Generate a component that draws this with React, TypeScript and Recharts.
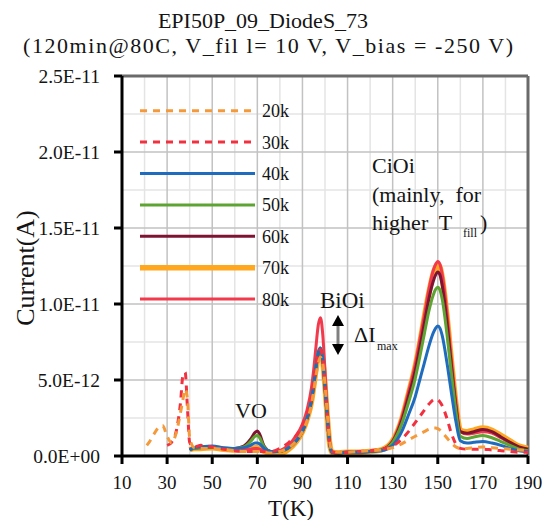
import { LineChart, Line, XAxis, YAxis, CartesianGrid, ReferenceLine } from "recharts";

// temperature (K) sample points
const TEMPS = [21, 22, 24, 26, 28, 30, 32, 34, 36, 37, 38, 39, 40, 42, 45, 50, 55, 60, 64, 67, 69, 70, 71, 73, 76, 80, 84, 87, 90, 92, 94, 95, 96, 97, 98, 99, 100, 101, 102, 103, 106, 110, 115, 120, 125, 130, 134, 137, 140, 142, 144, 146, 148, 149, 150, 151, 152, 154, 156, 158, 160, 163, 166, 170, 174, 178, 182, 186, 190];

// currents in units of 1E-12 A
const I20 = [0.7, 0.9, 1.4, 1.85, 2.0, 1.3, 0.85, 1.5, 2.9, 3.7, 4.4, 3.8, 1.2, 0.55, 0.5, 0.5, 0.45, 0.35, 0.3, 0.3, 0.3, 0.3, 0.3, 0.25, 0.2, 0.3, 0.55, 0.95, 1.6, 2.3, 3.4, 4.3, 5.3, 6.1, 6.5, 6.1, 4.7, 2.8, 1.1, 0.35, 0.25, 0.25, 0.3, 0.35, 0.4, 0.55, 0.8, 1.05, 1.3, 1.45, 1.6, 1.75, 1.85, 1.85, 1.8, 1.7, 1.55, 1.2, 0.85, 0.6, 0.5, 0.5, 0.55, 0.6, 0.55, 0.5, 0.45, 0.4, 0.35];
const I30 = [null, null, null, null, null, 0.7, 0.9, 1.6, 3.6, 5.3, 5.5, 3.2, 0.9, 0.6, 0.7, 0.6, 0.45, 0.35, 0.3, 0.3, 0.3, 0.3, 0.3, 0.3, 0.3, 0.5, 0.9, 1.3, 2.0, 2.8, 3.9, 4.9, 5.9, 6.7, 7.0, 6.4, 4.6, 2.6, 0.9, 0.3, 0.2, 0.25, 0.3, 0.35, 0.45, 0.65, 1.1, 1.6, 2.2, 2.6, 3.0, 3.4, 3.7, 3.75, 3.7, 3.55, 3.3, 2.5, 1.5, 0.8, 0.5, 0.45, 0.45, 0.45, 0.4, 0.35, 0.3, 0.25, 0.25];
const I40 = [null, null, null, null, null, null, null, null, null, null, null, null, 0.4, 0.55, 0.6, 0.65, 0.55, 0.5, 0.55, 0.7, 0.85, 0.85, 0.8, 0.5, 0.3, 0.3, 0.55, 0.95, 1.65, 2.5, 3.7, 4.7, 5.9, 6.8, 7.1, 6.4, 4.5, 2.5, 0.9, 0.25, 0.2, 0.25, 0.25, 0.3, 0.35, 0.7, 1.6, 2.7, 3.9, 5.0, 6.1, 7.2, 8.1, 8.4, 8.55, 8.4, 7.9, 6.2, 4.2, 2.3, 1.0, 0.85, 0.9, 0.95, 0.85, 0.7, 0.5, 0.35, 0.3];
const I50 = [null, null, null, null, null, null, null, null, null, null, null, null, 0.4, 0.5, 0.55, 0.6, 0.5, 0.5, 0.6, 0.95, 1.3, 1.35, 1.2, 0.6, 0.3, 0.3, 0.55, 0.95, 1.65, 2.5, 3.7, 4.7, 5.9, 6.8, 7.1, 6.4, 4.5, 2.5, 0.9, 0.25, 0.2, 0.25, 0.25, 0.3, 0.4, 0.9, 2.1, 3.5, 5.1, 6.5, 8.0, 9.5, 10.6, 10.95, 11.1, 10.9, 10.3, 8.1, 5.5, 3.0, 1.3, 1.15, 1.25, 1.35, 1.2, 0.95, 0.7, 0.45, 0.35];
const I60 = [null, null, null, null, null, null, null, null, null, null, null, null, 0.4, 0.5, 0.55, 0.6, 0.5, 0.5, 0.65, 1.1, 1.55, 1.65, 1.45, 0.65, 0.3, 0.3, 0.55, 0.95, 1.6, 2.4, 3.6, 4.6, 5.8, 6.7, 7.0, 6.3, 4.5, 2.5, 0.9, 0.25, 0.2, 0.25, 0.25, 0.3, 0.4, 0.95, 2.3, 3.9, 5.6, 7.1, 8.7, 10.3, 11.5, 11.9, 12.1, 11.9, 11.2, 8.9, 6.0, 3.3, 1.6, 1.5, 1.6, 1.75, 1.6, 1.25, 0.9, 0.6, 0.45];
const I70 = [null, null, null, null, null, null, null, null, null, null, null, null, 0.4, 0.5, 0.5, 0.55, 0.45, 0.4, 0.45, 0.5, 0.55, 0.55, 0.5, 0.3, 0.15, 0.15, 0.45, 0.9, 1.6, 2.4, 3.6, 4.6, 5.7, 6.6, 6.9, 6.3, 4.6, 2.6, 0.9, 0.25, 0.2, 0.25, 0.25, 0.3, 0.4, 1.0, 2.4, 4.1, 5.9, 7.4, 9.1, 10.7, 12.0, 12.4, 12.6, 12.4, 11.7, 9.3, 6.3, 3.5, 1.7, 1.6, 1.7, 1.85, 1.7, 1.35, 1.0, 0.65, 0.5];
const I80 = [null, null, null, null, null, null, null, null, null, null, null, null, 0.45, 0.55, 0.6, 0.6, 0.5, 0.45, 0.45, 0.45, 0.5, 0.5, 0.45, 0.35, 0.25, 0.35, 0.75, 1.3, 2.1, 3.0, 4.5, 5.7, 7.2, 8.6, 9.1, 8.0, 5.6, 3.0, 1.0, 0.25, 0.2, 0.25, 0.25, 0.3, 0.4, 1.0, 2.5, 4.2, 6.0, 7.6, 9.2, 10.9, 12.2, 12.6, 12.8, 12.6, 11.9, 9.5, 6.4, 3.6, 1.6, 1.45, 1.5, 1.6, 1.5, 1.2, 0.85, 0.55, 0.45];

const X_TICKS = [10, 30, 50, 70, 90, 110, 130, 150, 170, 190];
const X_MINOR = [20, 40, 60, 80, 100, 120, 140, 160, 180];
const Y_TICKS = [0, 5, 10, 15, 20, 25];
const Y_MINOR = [2.5, 7.5, 12.5, 17.5, 22.5];
const Y_LABELS = ["0.0E+00", "5.0E-12", "1.0E-11", "1.5E-11", "2.0E-11", "2.5E-11"];

const SERIES = [
  { key: "k20", name: "20k", values: I20, color: "#f59a3a", width: 3, dash: "7 6" },
  { key: "k30", name: "30k", values: I30, color: "#f2303f", width: 3, dash: "7 6" },
  { key: "k40", name: "40k", values: I40, color: "#1f6cbf", width: 3 },
  { key: "k50", name: "50k", values: I50, color: "#5ea432", width: 3 },
  { key: "k60", name: "60k", values: I60, color: "#7e1332", width: 3 },
  { key: "k70", name: "70k", values: I70, color: "#ffa71f", width: 5.5 },
  { key: "k80", name: "80k", values: I80, color: "#f23a4c", width: 3 },
];
const DRAW_ORDER = ["k70", "k80", "k60", "k50", "k40", "k30", "k20"];

const data = TEMPS.map((t, i) => {
  const row: any = { T: t };
  SERIES.forEach(s => { row[s.key] = s.values[i]; });
  return row;
});

const FONT = "Liberation Serif, DejaVu Serif, serif";
const INK = "#141414";

const XTick = ({ x, y, payload }: any) => (
  <text x={x} y={y + 13} fontSize={19} fill={INK} textAnchor="middle" style={{ fontFamily: FONT }}>
    {payload.value}
  </text>
);
const YTick = ({ x, y, payload }: any) => (
  <text x={x} y={y + 6.5} fontSize={19.5} fill={INK} textAnchor="end" style={{ fontFamily: FONT }}>
    {Y_LABELS[Y_TICKS.indexOf(payload.value)]}
  </text>
);

export default function App() {
  return (
    <div style={{ position: "absolute", left: 0, top: 0, width: 543, height: 520, background: "#fff", fontFamily: FONT }}>
      <LineChart width={543} height={520} data={data} margin={{ top: 76, right: 15, bottom: 0, left: 0 }}>
        <CartesianGrid stroke="#e4e4e4" strokeWidth={1.5} verticalValues={X_MINOR} horizontalValues={Y_MINOR} />
        <CartesianGrid stroke="#c2c2c2" strokeWidth={1.5} />
        <XAxis dataKey="T" type="number" domain={[10, 190]} ticks={X_TICKS} height={64}
          tick={XTick} tickSize={8} tickMargin={12}
          axisLine={{ stroke: "#000", strokeWidth: 3 }} tickLine={{ stroke: "#000", strokeWidth: 3 }} />
        <YAxis type="number" domain={[0, 25]} ticks={Y_TICKS} width={122}
          tick={YTick} tickSize={8} tickMargin={14}
          axisLine={{ stroke: "#000", strokeWidth: 3 }} tickLine={{ stroke: "#000", strokeWidth: 3 }} />
        <ReferenceLine y={25} stroke="#6a6a6a" strokeWidth={3} />
        <ReferenceLine x={190} stroke="#6a6a6a" strokeWidth={3} />
        {DRAW_ORDER.map(k => {
          const s = SERIES.find(x => x.key === k)!;
          return <Line key={k} dataKey={k} type="monotone" stroke={s.color} strokeWidth={s.width}
            strokeDasharray={s.dash} dot={false} connectNulls={false} isAnimationActive={false} />;
        })}
      </LineChart>

      <svg width={543} height={520} style={{ position: "absolute", left: 0, top: 0, pointerEvents: "none", fontFamily: FONT }}
        fill={INK}>
        <text x={263} y={28} fontSize={22} textAnchor="middle">EPI50P_09_DiodeS_73</text>
        <text x={23} y={53} fontSize={22} textLength={490} lengthAdjust="spacing">
          (120min@80C, V_fil l= 10 V, V_bias = -250 V)
        </text>

        <text x={291} y={516} fontSize={23} textAnchor="middle">T(K)</text>
        <text transform="translate(34,268) rotate(-90)" fontSize={26} textAnchor="middle">Current(A)</text>

        {SERIES.map((s, i) => {
          const y = 110.7 + i * 31.4;
          return (
            <g key={s.key}>
              <line x1={140} x2={255} y1={y} y2={y} stroke={s.color} strokeWidth={s.width} strokeDasharray={s.dash} />
              <text x={262} y={y + 6.5} fontSize={18}>{s.name}</text>
            </g>
          );
        })}

        <text x={251} y={418} fontSize={22} textAnchor="middle">VO</text>
        <text x={320} y={308} fontSize={23}>BiOi</text>
        <line x1={338} x2={338} y1={324} y2={346} stroke="#808080" strokeWidth={3} />
        <polygon points="338,315 332,326 344,326" fill="#000" />
        <polygon points="338,355 332,344 344,344" fill="#000" />
        <text x={354} y={342} fontSize={22}>ΔI</text>
        <text x={377} y={350} fontSize={12}>max</text>

        <text x={372} y={173} fontSize={22}>CiOi</text>
        <text x={372} y={202} fontSize={22} style={{ whiteSpace: "pre" }}>(mainly,  for</text>
        <text x={372} y={230} fontSize={22} style={{ whiteSpace: "pre" }}>higher  T</text>
        <text x={463} y={237} fontSize={12}>fill</text>
        <text x={480} y={230} fontSize={22}>)</text>
      </svg>
    </div>
  );
}
